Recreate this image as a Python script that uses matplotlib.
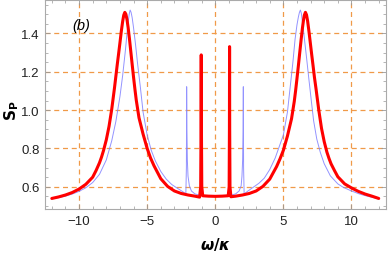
import matplotlib
matplotlib.use("Agg")
import matplotlib.pyplot as plt
from matplotlib.ticker import MultipleLocator

# red curve (thick)
red_w = [-12.0, -11.5, -11.0, -10.5, -10.0, -9.5, -9.0, -8.75, -8.5, -8.35, -8.2, -8.0,
         -7.8, -7.6, -7.4, -7.3, -7.2, -7.1, -7.0, -6.9, -6.8, -6.72, -6.64, -6.56,
         -6.48, -6.4, -6.3, -6.2, -6.1, -6.0, -5.9, -5.8, -5.6, -5.3, -5.0, -4.75,
         -4.5, -4.0, -3.5, -3.0, -2.5, -2.0, -1.5, -1.15,
         -1.07, -1.045, -1.03, -1.015, -0.99, -0.92, -0.5, 0.0, 0.5,
         0.95, 1.02, 1.04, 1.05, 1.06, 1.08, 1.15,
         1.5, 2.0, 2.5, 3.0, 3.5, 4.0, 4.5, 4.75, 5.0, 5.3, 5.6, 5.8, 5.9, 6.0, 6.1,
         6.2, 6.3, 6.4, 6.48, 6.54, 6.62, 6.7, 6.78, 6.88, 6.98, 7.08, 7.18, 7.28,
         7.4, 7.6, 7.8, 8.0, 8.2, 8.35, 8.5, 8.75, 9.0, 9.5, 10.0, 10.5, 11.0,
         11.5, 12.0]
red_s = [0.539, 0.547, 0.557, 0.570, 0.588, 0.613, 0.650, 0.685, 0.725, 0.755, 0.790, 0.845,
         0.915, 1.005, 1.115, 1.175, 1.235, 1.292, 1.350, 1.410, 1.462, 1.495, 1.510, 1.500,
         1.472, 1.432, 1.372, 1.305, 1.238, 1.172, 1.110, 1.052, 0.960, 0.875, 0.800, 0.750,
         0.710, 0.642, 0.602, 0.578, 0.565, 0.557, 0.551, 0.546,
         0.600, 0.900, 1.288, 0.900, 0.600, 0.553, 0.551, 0.550, 0.551,
         0.553, 0.600, 0.900, 1.331, 0.900, 0.600, 0.548,
         0.551, 0.557, 0.565, 0.578, 0.602, 0.640, 0.705, 0.745, 0.790, 0.865, 0.955, 1.045,
         1.102, 1.165, 1.230, 1.298, 1.365, 1.428, 1.470, 1.495, 1.510, 1.497, 1.465,
         1.410, 1.350, 1.290, 1.232, 1.172, 1.110, 1.000, 0.905, 0.835, 0.780, 0.748,
         0.720, 0.685, 0.652, 0.615, 0.594, 0.576, 0.562, 0.551, 0.539]

# blue curve (thin)
blue_w = [-12.0, -11.5, -11.0, -10.5, -10.0, -9.5, -9.0, -8.5, -8.0, -7.6, -7.3, -7.0,
          -6.8, -6.6, -6.48, -6.4, -6.32, -6.25, -6.18, -6.1, -6.0, -5.85, -5.7, -5.5,
          -5.3, -5.0, -4.7, -4.4, -4.0, -3.6, -3.2, -2.8, -2.4, -2.16,
          -2.12, -2.10, -2.08, -2.05, -2.0, -1.9, -1.75, -1.5, -1.2, -0.6, 0.0, 0.6,
          1.2, 1.5, 1.75, 1.9, 1.96, 2.01, 2.04, 2.06, 2.08, 2.12,
          2.4, 2.8, 3.2, 3.6, 4.0, 4.4, 4.7, 5.0, 5.3, 5.5, 5.7, 5.86, 6.0, 6.1, 6.18,
          6.25, 6.32, 6.4, 6.5, 6.7, 6.86, 7.05, 7.22, 7.45, 7.71, 8.0, 8.45, 9.0, 9.4,
          10.0, 10.6, 11.2, 12.0]
blue_s = [0.537, 0.543, 0.551, 0.562, 0.576, 0.595, 0.622, 0.665, 0.740, 0.840, 0.940, 1.070,
          1.180, 1.310, 1.400, 1.455, 1.500, 1.522, 1.510, 1.482, 1.430, 1.340, 1.240, 1.120,
          0.990, 0.870, 0.790, 0.735, 0.680, 0.640, 0.612, 0.593, 0.575, 0.562,
          0.700, 1.122, 0.900, 0.740, 0.655, 0.605, 0.578, 0.563, 0.557, 0.553, 0.552, 0.553,
          0.557, 0.563, 0.578, 0.605, 0.655, 0.740, 0.900, 1.122, 0.700, 0.562,
          0.578, 0.598, 0.618, 0.645, 0.690, 0.750, 0.810, 0.870, 0.990, 1.120, 1.250, 1.370,
          1.445, 1.485, 1.510, 1.522, 1.505, 1.460, 1.400, 1.275, 1.170, 1.050, 0.945, 0.850,
          0.780, 0.720, 0.657, 0.615, 0.597, 0.578, 0.562, 0.550, 0.537]

x_ticks = [-10, -5, 0, 5, 10]
y_ticks = [0.6, 0.8, 1.0, 1.2, 1.4]

plt.rcParams["font.family"] = ["Liberation Sans", "DejaVu Sans"]

fig = plt.figure(figsize=(3.88, 2.55), dpi=100)
ax = fig.add_axes([0.116, 0.1765, 0.8776, 0.8215])

ax.plot(blue_w, blue_s, color="#8080ff", lw=0.7, alpha=0.85, zorder=3)
ax.plot(red_w, red_s, color="#ff0000", lw=2.2, zorder=4,
        solid_joinstyle="round", solid_capstyle="round")

ax.set_xlim(-12.5, 12.5)
ax.set_ylim(0.484, 1.577)
ax.set_xticks(x_ticks)
ax.set_yticks(y_ticks)
ax.set_xticklabels([f"{t}".replace("-", "\u2212") for t in x_ticks])
ax.set_yticklabels([f"{t:.1f}" for t in y_ticks])
ax.xaxis.set_minor_locator(MultipleLocator(1))
ax.yaxis.set_minor_locator(MultipleLocator(0.05))

grid_kw = dict(color="#f09a48", lw=0.9, ls=(0, (4, 3)), zorder=1)
for t in x_ticks:
    ax.axvline(t, **grid_kw)
for t in y_ticks:
    ax.axhline(t, **grid_kw)

for sp in ax.spines.values():
    sp.set_color("#aaaaaa")
    sp.set_linewidth(0.8)

ax.tick_params(which="both", direction="in", top=True, right=True, color="#999999",
               labelsize=9.5, labelcolor="#222222", pad=4)
ax.tick_params(which="major", length=3.5, width=0.6)
ax.tick_params(which="minor", length=2, width=0.5)

ax.set_xlabel(r"$\boldsymbol{\omega/\kappa}$", fontsize=11, labelpad=6)
fig.text(0.031, 0.565, r"$\mathbf{S_{P}}$", rotation=90, fontsize=11,
         ha="center", va="center")
ax.text(-9.85, 1.443, "(b)", fontsize=10.5, style="italic", ha="center", va="center")

fig.savefig("out.png", dpi=100)
